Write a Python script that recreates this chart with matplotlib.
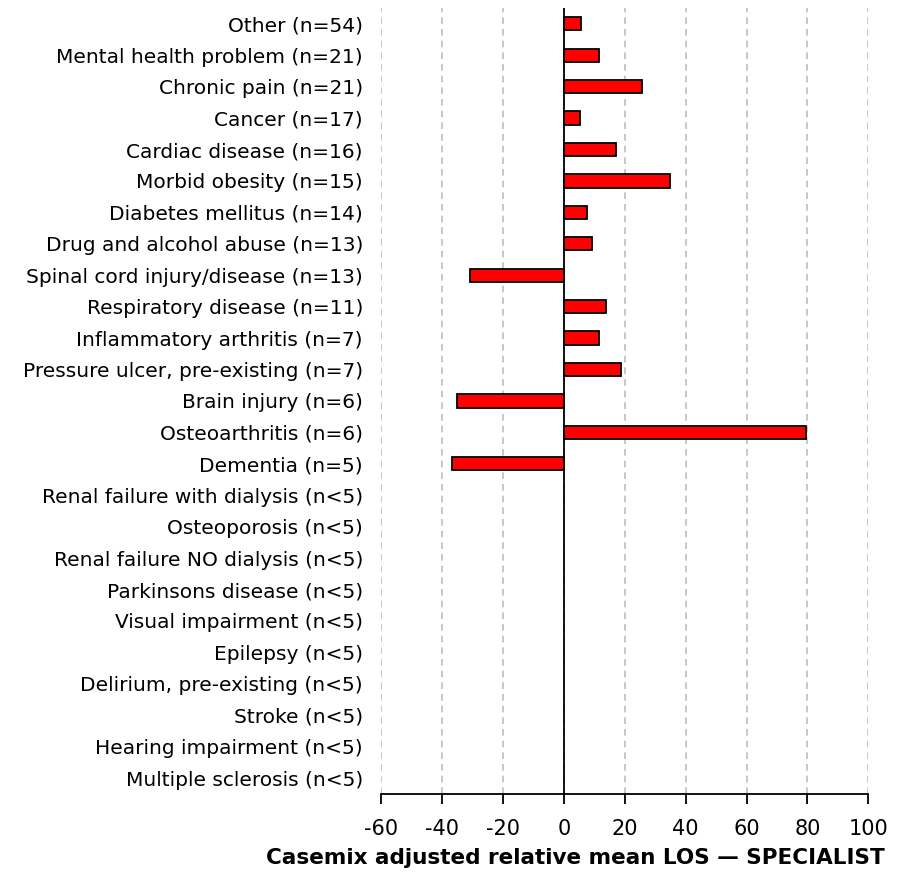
import numpy as np
import matplotlib.pyplot as plt

labels = ['Other (n=54)', 'Mental health problem (n=21)', 'Chronic pain (n=21)',
          'Cancer (n=17)', 'Cardiac disease (n=16)', 'Morbid obesity (n=15)',
          'Diabetes mellitus (n=14)', 'Drug and alcohol abuse (n=13)',
          'Spinal cord injury/disease (n=13)', 'Respiratory disease (n=11)',
          'Inflammatory arthritis (n=7)', 'Pressure ulcer, pre-existing (n=7)',
          'Brain injury (n=6)', 'Osteoarthritis (n=6)', 'Dementia (n=5)',
          'Renal failure with dialysis (n<5)', 'Osteoporosis (n<5)',
          'Renal failure NO dialysis (n<5)', 'Parkinsons disease (n<5)',
          'Visual impairment (n<5)', 'Epilepsy (n<5)', 'Delirium, pre-existing (n<5)',
          'Stroke (n<5)', 'Hearing impairment (n<5)', 'Multiple sclerosis (n<5)']
values = [5.8, 11.6, 25.7, 5.2, 17.0, 35.0, 7.5, 9.3, -30.8, 14.0, 11.7, 18.7,
          -34.9, 79.6, -36.6, np.nan, np.nan, np.nan, np.nan, np.nan, np.nan,
          np.nan, np.nan, np.nan, np.nan]
xticks = [-60, -40, -20, 0, 20, 40, 60, 80, 100]

fig = plt.figure(figsize=(9.06, 8.96), dpi=100)
ax = fig.add_axes([0.4205, 0.114, 0.538, 0.877])

y = np.arange(len(labels))
ax.barh(y, values, height=0.42, color='#ff0000', edgecolor='black', linewidth=1.3, zorder=3)
ax.axvline(0, color='black', linewidth=1.3, zorder=4)

ax.set_xlim(-60, 100)
ax.set_ylim(len(labels) - 0.5, -0.5)
ax.set_xticks(xticks)
ax.set_xticklabels([str(t) for t in xticks], fontsize=15)
ax.set_yticks(y)
ax.set_yticklabels(labels, fontsize=14.5)
ax.tick_params(axis='y', length=0, pad=13)
ax.tick_params(axis='x', length=7, width=1.3, direction='out', pad=11)
ax.xaxis.grid(True, linestyle=(0, (4, 3)), color='#bdbdbd', linewidth=1.2, zorder=0)

for s in ['top', 'right', 'left']:
    ax.spines[s].set_visible(False)
ax.spines['bottom'].set_linewidth(1.3)

fig.text(0.977, 0.042, 'Casemix adjusted relative mean LOS \u2014 SPECIALIST',
         ha='right', va='center', fontsize=15.5, fontweight='bold')

fig.savefig('out.png', dpi=100)
